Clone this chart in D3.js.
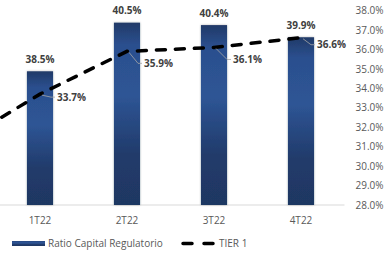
<!DOCTYPE html>
<html>
<head>
<meta charset="utf-8">
<script src="https://cdn.jsdelivr.net/npm/d3@7"></script>
<style>
  html, body { margin: 0; padding: 0; background: #fff; }
  svg { display: block; font-family: "Open Sans", sans-serif; }
</style>
</head>
<body>
<svg id="chart" width="390" height="253"></svg>
<script>
// data (4T21 sits just left of the visible area; only its line point shows)
var quarters = ["4T21", "1T22", "2T22", "3T22", "4T22"];
var ratioCapital = [null, 38.5, 40.5, 40.4, 39.9];
var tier1 = [31.0, 33.7, 35.9, 36.1, 36.6];
var rightTicks = [28, 29, 30, 31, 32, 33, 34, 35, 36, 37, 38];
var legendNames = ["Ratio Capital Regulatorio", "TIER 1"];

// where the tier 1 labels sit relative to their point
var tierLabelShift = [null, [17, 3], [17, 12], [19, 12], [16, 7]];

var svg = d3.select("#chart");
var plotLeft = -90.5, plotRight = 344.5, plotTop = 10.5, plotBottom = 205;

var x = d3.scaleBand()
  .domain(quarters)
  .range([plotLeft, plotRight])
  .paddingInner(0.7)
  .paddingOuter(0.35);

var yBar = d3.scaleLinear().domain([33, 41]).range([plotBottom, plotTop]);
var yLine = d3.scaleLinear().domain([28, 38]).range([plotBottom, plotTop]);

var cx = function(q){ return x(q) + x.bandwidth()/2; };

//gradient + soft shadow for bars
var defs = svg.append("defs");
var grad = defs.append("linearGradient").attr("id", "barGrad")
  .attr("x1", 0).attr("y1", 0).attr("x2", 0).attr("y2", 1);
[["0%", "#213a68"], ["12%", "#2b4f8e"], ["40%", "#2e5595"], ["72%", "#213b6b"], ["100%", "#1f3762"]]
  .forEach(function(s){ grad.append("stop").attr("offset", s[0]).attr("stop-color", s[1]); });

var shadow = defs.append("filter").attr("id", "barShadow")
  .attr("x", "-30%").attr("y", "-10%").attr("width", "160%").attr("height", "120%");
shadow.append("feDropShadow").attr("dx", 0).attr("dy", 0)
  .attr("stdDeviation", 1).attr("flood-color", "#000").attr("flood-opacity", 0.3);

// baseline
svg.append("line")
  .attr("x1", 0).attr("x2", plotRight)
  .attr("y1", plotBottom).attr("y2", plotBottom)
  .attr("stroke", "#d9d9d9").attr("stroke-width", 1);

//bars
var barData = quarters.map(function(q, i){ return {q: q, v: ratioCapital[i]}; })
  .filter(function(d){ return d.v !== null; });

svg.append("g").selectAll("rect").data(barData).enter()
  .append("rect")
  .attr("x", function(d){ return x(d.q); })
  .attr("y", function(d){ return yBar(d.v); })
  .attr("width", x.bandwidth())
  .attr("height", function(d){ return plotBottom - yBar(d.v); })
  .attr("fill", "url(#barGrad)")
  .attr("filter", "url(#barShadow)");

svg.append("g").selectAll("text").data(barData).enter()
  .append("text")
  .attr("x", function(d){ return cx(d.q); })
  .attr("y", function(d){ return yBar(d.v) - 8.5; })
  .attr("text-anchor", "middle")
  .attr("font-size", 10).attr("font-weight", "bold").attr("fill", "#404040")
  .text(function(d){ return d.v.toFixed(1) + "%"; });

// tier 1 line
var linePts = quarters.map(function(q, i){ return {q: q, v: tier1[i], i: i}; });
var line = d3.line()
  .x(function(d){ return cx(d.q); })
  .y(function(d){ return yLine(d.v); });

svg.append("path")
  .datum(linePts)
  .attr("d", line)
  .attr("fill", "none")
  .attr("stroke", "#000")
  .attr("stroke-width", 3.5)
  .attr("stroke-linecap", "round")
  .attr("stroke-dasharray", "9,10");

// leader lines + labels
var labelled = linePts.filter(function(d){ return tierLabelShift[d.i]; });
var leaders = svg.append("g");
labelled.forEach(function(d){
  var px = cx(d.q), py = yLine(d.v), s = tierLabelShift[d.i];
  var pts = [[px + 2, py + 1], [px + s[0] - 6, py + s[1]], [px + s[0] - 2, py + s[1]]];
  leaders.append("path")
    .attr("d", d3.line()(pts))
    .attr("fill", "none").attr("stroke", "#a6a6a6").attr("stroke-width", 0.8);
});

svg.append("g").selectAll("text").data(labelled).enter()
  .append("text")
  .attr("x", function(d){ return cx(d.q) + tierLabelShift[d.i][0]; })
  .attr("y", function(d){ return yLine(d.v) + tierLabelShift[d.i][1]; })
  .attr("dy", "0.35em")
  .attr("font-size", 10).attr("font-weight", "bold").attr("fill", "#404040")
  .text(function(d){ return d.v.toFixed(1) + "%"; });

// right axis
var yAxis = svg.append("g")
  .attr("transform", "translate(" + plotRight + ",0)")
  .call(d3.axisRight(yLine).tickValues(rightTicks).tickSize(0).tickPadding(11)
    .tickFormat(function(d){ return d.toFixed(1) + "%"; }));
yAxis.select(".domain").remove();
yAxis.selectAll("text")
  .attr("font-family", "Open Sans").attr("font-size", 10).attr("fill", "#595959");

// category labels
svg.append("g").selectAll("text").data(quarters.slice(1)).enter()
  .append("text")
  .attr("x", function(q){ return cx(q); })
  .attr("y", 224)
  .attr("text-anchor", "middle")
  .attr("font-size", 10).attr("fill", "#595959")
  .text(function(q){ return q; });

//legend
var legend = svg.append("g");
legend.append("rect")
  .attr("x", 12).attr("y", 241).attr("width", 33).attr("height", 5)
  .attr("fill", "url(#barGrad)");
legend.append("text")
  .attr("x", 48).attr("y", 247)
  .attr("font-size", 10).attr("fill", "#595959")
  .text(legendNames[0]);
legend.append("line")
  .attr("x1", 183).attr("x2", 215).attr("y1", 243.5).attr("y2", 243.5)
  .attr("stroke", "#000").attr("stroke-width", 3.5)
  .attr("stroke-linecap", "round").attr("stroke-dasharray", "9,12");
legend.append("text")
  .attr("x", 219).attr("y", 247)
  .attr("font-size", 10).attr("fill", "#595959")
  .text(legendNames[1]);
</script>
</body>
</html>
